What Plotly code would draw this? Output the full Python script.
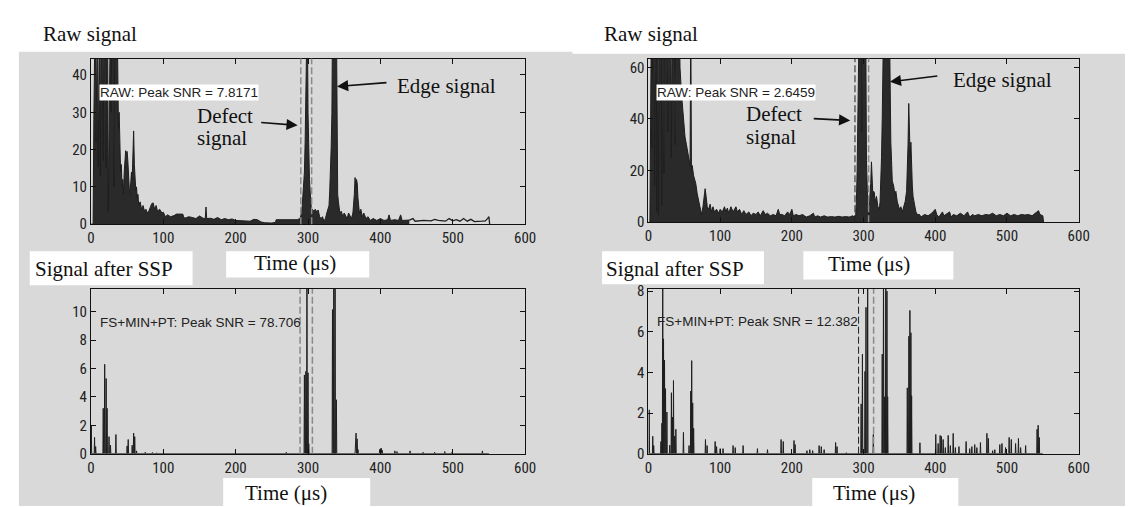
import plotly.graph_objects as go

W, H = 1133, 507

# ---------------- data ----------------
X_TICKS = [0, 100, 200, 300, 400, 500, 600]
TL_YTICKS = [0, 10, 20, 30, 40]
TR_YTICKS = [0, 20, 40, 60]
BL_YTICKS = [0, 2, 4, 6, 8, 10]
BR_YTICKS = [0, 2, 4, 6, 8]
Y_MAX = {"tl": 44.4, "tr": 63.4, "bl": 11.6, "br": 8.1}

# raw signal, left specimen (time us, amplitude)
TL_RAW = [(0, 0), (3, 0), (4, 28), (5, 60), (6, 60), (7, 22), (8, 60), (9, 60), (10, 15.5), (11, 60),
          (12, 60), (13, 12.8), (14, 60), (16, 60), (17, 17), (18, 60), (20, 60), (21, 15), (22, 60),
          (23, 60), (24, 3.4), (25, 60), (27, 60), (28, 30), (29, 60), (31, 60), (32, 10), (33, 60),
          (36, 60), (37, 40), (38, 26), (39, 30), (40, 18), (41, 14), (42, 16), (43, 10), (44, 12),
          (45, 8), (46, 14), (47, 17), (48, 19.7), (49, 19), (50, 19.5), (51, 17), (52, 12), (53, 9.5),
          (54, 8), (55, 11), (56, 14), (57, 12), (58, 20), (59, 25), (60, 16), (61, 12), (62, 9),
          (63, 10), (64, 7), (65, 8), (66, 5), (68, 6), (70, 4), (72, 5), (74, 3.5), (76, 4), (78, 3),
          (80, 3.5), (82, 4.5), (84, 5.5), (86, 5.7), (88, 4), (90, 5), (92, 3.5), (95, 4), (98, 3),
          (100, 3.2), (103, 2), (106, 2.5), (110, 2), (115, 2.3), (118, 2.7), (127, 2.7), (128, 2),
          (130, 1.6), (135, 2), (140, 1.8), (145, 1.5), (150, 2.2), (155, 1.6), (158, 1.5), (159, 4.6),
          (160, 1.5), (165, 1.6), (170, 1.3), (175, 1.8), (180, 1.2), (185, 1.5), (190, 1.2), (195, 1.4),
          (200, 1.0), (210, 0.8), (220, 0.8), (225, 1.3), (230, 1.2), (235, 0.6), (240, 0.4), (250, 0.3),
          (255, 0.5), (256, 1.2), (265, 1.2), (275, 1.2), (285, 1.2), (289, 1.5), (291, 3), (292, 5),
          (293, 8), (294, 11), (295, 14), (296, 22), (297, 35), (298, 60), (299, 60), (300, 30),
          (301, 17), (302, 12), (303, 8.6), (304, 6), (305, 3), (306, 4), (308, 3.5), (310, 4),
          (312, 3.3), (314, 3.8), (316, 2), (318, 1.5), (320, 2), (322, 0.8), (324, 1.5), (326, 3),
          (328, 4), (329, 5), (330, 9), (331, 14), (332, 20.6), (333, 30), (334, 60), (339, 60),
          (340, 20), (341, 8), (342, 6), (344, 3), (346, 3.5), (348, 2), (350, 3), (352, 2), (354, 1.5),
          (356, 3), (358, 2), (360, 1.5), (362, 3), (363, 5), (364, 8), (365, 12.5), (366, 10),
          (367, 12), (368, 11), (369, 7), (370, 5), (371, 3), (373, 4), (375, 2), (377, 3), (380, 1.5),
          (383, 2), (386, 1), (390, 1.5), (395, 1), (400, 1.5), (405, 1), (410, 1.2), (412, 2.5),
          (414, 1), (420, 1.2), (425, 1), (428, 2.5), (430, 1), (440, 1.1), (445, 1.5), (448, 0.8),
          (455, 1), (460, 1.0), (470, 0.9), (475, 1.3), (480, 1), (490, 0.8), (495, 1.5), (500, 0.9),
          (505, 1.2), (510, 0.8), (515, 1.5), (520, 0.8), (525, 1.3), (530, 0.7), (540, 0.8),
          (545, 0.9), (548, 1.5), (550, 2), (551, 0)]

# raw signal, right specimen
TR_RAW = [(0, 0), (2, 0), (3, 40), (4, 80), (5, 29), (6, 80), (8, 80), (8.5, 14), (9.5, 80), (11, 80),
          (11.5, 4), (12.5, 80), (13.5, 80), (14, 2.7), (15, 80), (18, 80), (18.5, 6.5), (19.5, 80),
          (21, 80), (21.7, 19), (22.5, 80), (26, 80), (27, 35), (28, 80), (31, 80), (32, 25), (33, 80),
          (36, 80), (37, 30), (38, 80), (43, 80), (44, 60), (46, 50), (48, 42), (49.7, 38), (51, 33),
          (53, 30), (55, 26), (57, 23), (58, 22), (59, 80), (60, 20), (61, 22), (63, 18), (65, 16),
          (66, 15), (68, 11), (70, 8), (72, 5), (74, 3), (76, 6), (78, 12), (79, 13), (80, 11), (82, 6),
          (84, 5), (86, 7), (88, 4), (90, 6), (92, 4), (95, 5), (98, 3.5), (100, 5), (103, 4), (106, 6),
          (108, 4), (110, 5.5), (112, 3.5), (115, 6), (118, 4), (120, 5), (122, 6), (124, 4), (127, 5),
          (130, 3), (133, 4.5), (136, 3), (140, 4), (143, 2.5), (146, 3.5), (150, 3), (153, 4),
          (156, 2.5), (160, 4.5), (163, 3), (166, 3.5), (170, 2.5), (174, 3), (178, 2.5), (181, 5),
          (183, 3), (186, 3), (190, 2.5), (194, 4), (197, 3), (200, 5), (202, 2.5), (206, 3),
          (210, 2.5), (215, 3), (220, 2), (225, 2.5), (230, 3.5), (232, 2), (236, 2.5), (240, 2),
          (245, 2.5), (250, 2), (255, 2.2), (260, 2), (265, 2.3), (270, 2), (275, 2.2), (280, 2),
          (285, 2.5), (287, 2), (289, 3), (290, 8), (291, 20), (292, 40), (293, 55), (294, 80),
          (297, 80), (297.5, 35), (298.5, 80), (303, 80), (304, 24), (305, 12.7), (306, 5), (307, 3),
          (308, 6), (309, 10), (310, 15), (311, 23.4), (312, 18), (313, 10), (314, 12), (315, 11.5),
          (316, 8), (318, 10), (320, 6), (322, 5), (323, 8), (324, 15), (325, 25), (326, 40), (327, 55),
          (328, 80), (336, 80), (337, 50), (338, 31), (339, 24), (340, 16), (342, 14), (344, 10),
          (345, 12), (347, 8), (350, 5), (352, 6), (354, 4), (356, 6), (358, 8), (360, 12), (361, 20),
          (362, 30), (363, 46), (364, 38), (365, 25), (366, 31), (367, 20), (368, 14), (369, 10),
          (370, 8), (372, 6), (373, 4), (375, 3), (378, 3), (380, 2), (385, 3), (390, 2.5), (395, 3.5),
          (400, 5), (402, 3), (405, 2), (410, 4), (412, 2.5), (415, 3), (420, 4), (422, 2), (425, 3),
          (430, 2.5), (435, 3.5), (440, 2.5), (445, 4), (448, 2), (452, 3), (455, 2.5), (460, 3),
          (465, 2.5), (470, 3), (475, 2.8), (480, 3.5), (485, 2.5), (490, 3), (495, 2.5), (500, 3.5),
          (505, 2.5), (510, 3), (515, 2.5), (520, 3), (525, 2.8), (530, 3), (535, 2.5), (540, 3.5),
          (544, 4.5), (546, 3), (550, 2.5), (551, 0)]

# signal after SSP: spike peaks (time us, amplitude)
BL_SSP = [(0.5, 2.0), (5, 1.15), (6.5, 0.5), (17, 3.2), (19, 6.3), (21, 5.3), (22.3, 3.2), (25, 1.2),
          (27, 0.6), (34.5, 1.35), (50, 0.55), (51.5, 1.0), (57, 0.6), (59, 1.45), (60.5, 1.2),
          (63, 0.2), (75, 0.1), (85, 0.08), (91, 0.06), (270, 0.1), (295, 5.55), (297, 5.8),
          (298.5, 15), (300, 5.7), (301, 0.7), (333.8, 10.15), (335.6, 15), (337.4, 15), (339.2, 3.8),
          (365.5, 0.55), (366.4, 1.45), (367.8, 1.05), (369, 0.3), (399, 0.3), (401, 0.4),
          (402.5, 0.25), (420, 0.2), (423, 0.15), (441, 0.2), (459, 0.1), (475, 0.1), (489, 0.15),
          (499, 0.1), (541, 0.2)]

BR_SSP = [(1, 2.16), (6, 0.86), (7.3, 0.4), (17.4, 0.6), (18.8, 1.5), (19.9, 10), (21, 5.65),
          (22.4, 4.6), (23.8, 3.2), (25.7, 2.05), (29.7, 0.42), (32, 3.0), (33.5, 1.8), (34.9, 3.6),
          (36.3, 0.86), (38.2, 1.2), (48.8, 1.05), (56.6, 0.4), (59, 3.08), (60.3, 4.58), (61.7, 2.5),
          (63, 1.25), (79.5, 0.7), (81.8, 0.4), (93, 0.6), (95, 0.35), (100, 0.25), (104, 0.25),
          (118, 0.4), (121, 0.3), (132, 0.4), (152, 0.25), (166, 0.2), (185, 0.7), (188, 0.6),
          (203, 0.65), (204.5, 0.45), (221, 0.15), (225, 0.2), (229, 0.15), (238, 0.4), (241, 0.35),
          (245, 0.2), (261, 0.55), (263, 0.35), (276, 0.05), (296.6, 2.45), (298.4, 4.9), (302, 4.05),
          (303.4, 7.2), (305.7, 10), (313.6, 0.95), (326, 4.9), (327.8, 10), (329.4, 2.8), (331, 10),
          (332.6, 8.0), (333.6, 2.8), (361, 3.24), (363.2, 5.78), (364.6, 7.05), (366, 5.95),
          (367, 2.85), (378.6, 0.54), (400.7, 0.95), (404, 0.5), (406.8, 0.9), (408.6, 0.85),
          (411, 0.7), (414, 0.3), (418, 0.9), (421, 0.4), (425, 1.0), (428, 0.3), (433, 0.35),
          (443, 0.6), (448, 0.25), (451, 0.35), (455, 0.45), (458, 0.3), (463, 0.55), (472, 1.0),
          (474, 0.75), (480, 0.15), (483, 0.2), (490, 0.45), (493, 0.5), (498, 0.3), (503, 0.8),
          (506, 0.7), (512, 0.5), (516, 0.75), (519, 0.3), (526, 0.4), (542, 1.2), (543.5, 1.4),
          (545, 0.8)]

# dashed gate markers (time us)
TL_GATES = [290, 305]
TR_GATES = [288, 307]
BL_GATES = [289, 306]
BR_GATES = [293, 314]

PEAK_TEXT = {"tl": "RAW: Peak SNR = 7.8171", "tr": "RAW: Peak SNR = 2.6459",
             "bl": "FS+MIN+PT: Peak SNR = 78.706", "br": "FS+MIN+PT: Peak SNR = 12.382"}

# ---------------- helpers ----------------
def px(x):
    return x / W


def py(y):
    return 1 - y / H


def spikes(pairs, hw=0.5, end=550):
    xs, ys = [0], [0]
    for t, v in pairs:
        xs += [t - hw, t, t + hw]
        ys += [0, v, 0]
    xs.append(end)
    ys.append(0)
    return xs, ys


TICK_FONT = dict(family="Roboto Condensed, Liberation Sans, sans-serif", size=15, color="#222222")
PEAK_FONT = dict(family="Liberation Sans, Arial, sans-serif", size=13.5, color="#222222")
SERIF = dict(family="Liberation Serif, Times New Roman, serif", size=21, color="#111111")
INK = "#1e1e1e"

fig = go.Figure()

# raw traces
tl_t = [p[0] for p in TL_RAW]
tl_v = [p[1] for p in TL_RAW]
cut = next(i for i, t in enumerate(tl_t) if t >= 440)
fig.add_trace(go.Scatter(x=tl_t[:cut + 1], y=tl_v[:cut + 1], mode="lines", fill="tozeroy",
                         fillcolor="#2a2a2a", line=dict(color=INK, width=1), xaxis="x", yaxis="y"))
fig.add_trace(go.Scatter(x=tl_t[cut:], y=tl_v[cut:], mode="lines",
                         line=dict(color=INK, width=1.3), xaxis="x", yaxis="y"))

fig.add_trace(go.Scatter(x=[p[0] for p in TR_RAW], y=[p[1] for p in TR_RAW], mode="lines",
                         fill="tozeroy", fillcolor="#2a2a2a", line=dict(color=INK, width=1),
                         xaxis="x2", yaxis="y2"))

bx, by = spikes(BL_SSP)
fig.add_trace(go.Scatter(x=bx, y=by, mode="lines", line=dict(color=INK, width=1),
                         xaxis="x3", yaxis="y3"))
rx, ry = spikes(BR_SSP)
fig.add_trace(go.Scatter(x=rx, y=ry, mode="lines", line=dict(color=INK, width=1),
                         xaxis="x4", yaxis="y4"))

# axes
def xax(x0, x1):
    return dict(domain=[px(x0), px(x1)], range=[0, 600], tickvals=X_TICKS, showline=True,
                linecolor="#111111", linewidth=1, mirror="ticks", ticks="inside", ticklen=5,
                tickcolor="#111111", showgrid=False, zeroline=False, tickfont=TICK_FONT,
                fixedrange=True)


def yax(y0, y1, ymax, ticks, anchor):
    return dict(domain=[py(y1), py(y0)], range=[0, ymax], tickvals=ticks, showline=True,
                linecolor="#111111", linewidth=1, mirror="ticks", ticks="inside", ticklen=5,
                tickcolor="#111111", showgrid=False, zeroline=False, tickfont=TICK_FONT,
                fixedrange=True, anchor=anchor)


layout = dict(
    width=W, height=H, margin=dict(l=0, r=0, t=0, b=0), showlegend=False,
    paper_bgcolor="white", plot_bgcolor="white",
    xaxis=dict(xax(80, 520), anchor="y"),
    yaxis=yax(45, 216, Y_MAX["tl"], TL_YTICKS, "x"),
    xaxis2=dict(xax(645, 1081), anchor="y2"),
    yaxis2=yax(45, 214, Y_MAX["tr"], TR_YTICKS, "x2"),
    xaxis3=dict(xax(80, 520), anchor="y3"),
    yaxis3=yax(283, 453, Y_MAX["bl"], BL_YTICKS, "x3"),
    xaxis4=dict(xax(645, 1081), anchor="y4"),
    yaxis4=yax(283, 453, Y_MAX["br"], BR_YTICKS, "x4"),
)
fig.update_layout(**layout)

shapes = []
# grey panel backgrounds (overlapping slightly so no seam shows)
shapes.append(dict(type="rect", xref="paper", yref="paper", x0=px(7), x1=px(568), y0=py(507),
                   y1=py(38), fillcolor="#d9d9d9", line=dict(width=0), layer="below"))
shapes.append(dict(type="rect", xref="paper", yref="paper", x0=px(564), x1=px(1130), y0=py(507),
                   y1=py(40), fillcolor="#d9d9d9", line=dict(width=0), layer="below"))
# white label boxes
for (x0, y0, x1, y1) in [(18, 244, 183, 279), (217, 244, 362, 271), (598, 244, 762, 278),
                         (802, 244, 954, 273), (214, 478, 363, 507), (811, 478, 959, 507)]:
    shapes.append(dict(type="rect", xref="paper", yref="paper", x0=px(x0), x1=px(x1), y0=py(y1),
                       y1=py(y0), fillcolor="white", line=dict(width=0), layer="below"))

# dashed gates
def gate(t, ax, color, width=1.5):
    return dict(type="line", xref=ax, yref=ax.replace("x", "y") + " domain", x0=t, x1=t, y0=0, y1=1,
                line=dict(color=color, width=width, dash="7px,3px"))

shapes += [gate(TL_GATES[0], "x", "#8a8a8a"), gate(TL_GATES[1], "x", "#8a8a8a")]
shapes += [gate(TR_GATES[0], "x2", "#222222", 1), gate(TR_GATES[1], "x2", "#8a8a8a")]
shapes += [gate(BL_GATES[0], "x3", "#8a8a8a"), gate(BL_GATES[1], "x3", "#8a8a8a")]
shapes += [gate(BR_GATES[0], "x4", "#222222", 1), gate(BR_GATES[1], "x4", "#8a8a8a")]
fig.update_layout(shapes=shapes)

ann = []
def ptext(text, x, y, font, xanchor="left", bg=None):
    d = dict(text=text, xref="paper", yref="paper", x=px(x), y=py(y), xanchor=xanchor,
             yanchor="middle", showarrow=False, font=font)
    if bg:
        d.update(bgcolor=bg, borderpad=0)
    ann.append(d)

ptext("Raw signal", 29, 20, SERIF)
ptext("Raw signal", 598, 20, SERIF)
ptext("Signal after SSP", 21, 262, SERIF)
ptext("Signal after SSP", 600, 262, SERIF)
ptext("Time (μs)", 287, 256, SERIF, "center")
ptext("Time (μs)", 869, 257, SERIF, "center")
ptext("Time (μs)", 278, 494, SERIF, "center")
ptext("Time (μs)", 874, 494, SERIF, "center")

# annotation texts in the raw plots
ptext("Edge signal", 388, 73, SERIF)
ptext("Defect", 185, 104, SERIF)
ptext("signal", 185, 127, SERIF)
ptext("Edge signal", 952, 67, SERIF)
ptext("Defect", 742, 102, SERIF)
ptext("signal", 742, 126, SERIF)

ptext(PEAK_TEXT["tl"], 88, 80, PEAK_FONT, bg="white")
ptext(PEAK_TEXT["tr"], 653, 80, PEAK_FONT, bg="white")
ptext(PEAK_TEXT["bl"], 87, 318, PEAK_FONT)
ptext(PEAK_TEXT["br"], 652, 317, PEAK_FONT)

# arrows (tip in data coordinates, tail offset in pixels)
def arrow(xa, ya, t, v, ax_px, ay_px):
    ann.append(dict(text="", xref=xa, yref=ya, x=t, y=v, ax=ax_px, ay=ay_px, showarrow=True,
                    arrowhead=2, arrowsize=1.4, arrowwidth=1.6, arrowcolor="#111111", standoff=0))

arrow("x", "y", 340, 36.9, 51, -4)
arrow("x", "y", 285.7, 26.5, -38, -3)
arrow("x2", "y2", 336.6, 54.4, 49, -6)
arrow("x2", "y2", 281.4, 39.4, -38, -2)

fig.update_layout(annotations=ann)
fig.write_html("out.html")
